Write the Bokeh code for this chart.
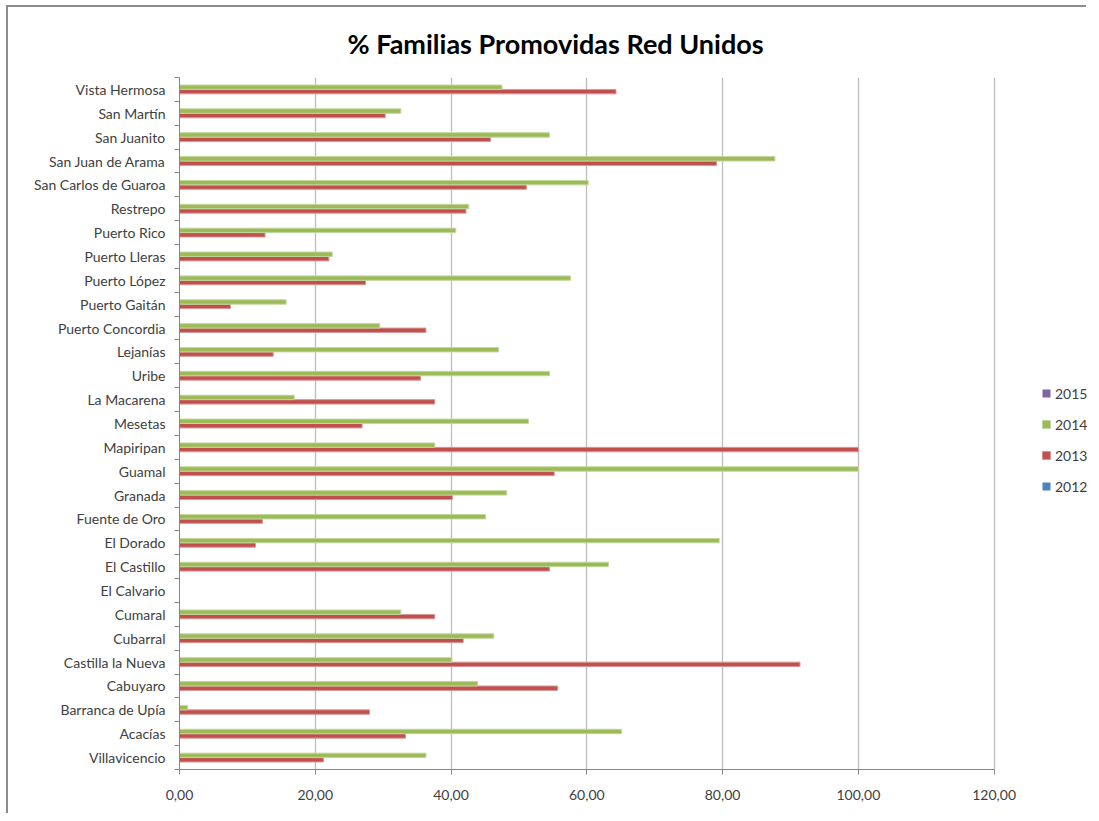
from bokeh.plotting import figure
from bokeh.models import Range1d, FixedTicker, Legend, LegendItem, ColumnDataSource
from bokeh.embed import file_html
from bokeh.resources import INLINE

# Categories from bottom to top
municipios = [
    "Villavicencio", "Acacías", "Barranca de Upía", "Cabuyaro", "Castilla la Nueva",
    "Cubarral", "Cumaral", "El Calvario", "El Castillo", "El Dorado", "Fuente de Oro",
    "Granada", "Guamal", "Mapiripan", "Mesetas", "La Macarena", "Uribe", "Lejanías",
    "Puerto Concordia", "Puerto Gaitán", "Puerto López", "Puerto Lleras", "Puerto Rico",
    "Restrepo", "San Carlos de Guaroa", "San Juan de Arama", "San Juanito", "San Martín",
    "Vista Hermosa",
]
v2012 = [0.0] * 29
v2013 = [21.2, 33.3, 28.0, 55.7, 91.4, 41.8, 37.6, 0.0, 54.5, 11.2, 12.2,
         40.2, 55.2, 100.0, 26.9, 37.6, 35.5, 13.8, 36.3, 7.5, 27.4, 22.0, 12.6,
         42.2, 51.1, 79.1, 45.8, 30.3, 64.3]
v2014 = [36.3, 65.1, 1.2, 43.9, 40.1, 46.3, 32.6, 0.0, 63.2, 79.5, 45.1,
         48.2, 100.0, 37.6, 51.4, 16.9, 54.5, 47.0, 29.5, 15.7, 57.6, 22.5, 40.7,
         42.6, 60.2, 87.7, 54.5, 32.6, 47.5]
v2015 = [0.0] * 29
years = ["2012", "2013", "2014", "2015"]
x_ticks = [0, 20, 40, 60, 80, 100, 120]
x_tick_labels = ["0,00", "20,00", "40,00", "60,00", "80,00", "100,00", "120,00"]

FONT = "Lato"
colors = {"2012": "#4F81BD", "2013": "#C0504D", "2014": "#9BBB59", "2015": "#8064A2"}
edges = {"2012": "#4F81BD", "2013": "#D99694", "2014": "#C3D69B", "2015": "#8064A2"}
offsets = {"2012": -0.28, "2013": -0.093, "2014": 0.093, "2015": 0.28}
series = {"2012": v2012, "2013": v2013, "2014": v2014, "2015": v2015}

# frame extends past the 120 axis end to host the legend on the right
p = figure(width=1080, height=808, output_backend="svg", toolbar_location=None,
           x_range=Range1d(0, 133.9), y_range=Range1d(-0.5, len(municipios) - 0.5),
           min_border_left=171, min_border_right=0, min_border_top=69,
           min_border_bottom=46)
p.styles = {"margin-left": "6px", "margin-top": "5px",
            "border-left": "2px solid #8c8c8c", "border-top": "2px solid #8c8c8c"}
p.outline_line_color = None
p.background_fill_color = "white"
p.border_fill_color = "white"

renderers = {}
idx = list(range(len(municipios)))
for yr in years:
    src = ColumnDataSource(dict(y=[i + offsets[yr] for i in idx], right=series[yr]))
    has_vals = any(v > 0 for v in series[yr])
    r = p.hbar(y="y", left=0, right="right", height=0.185, source=src,
               fill_color=colors[yr],
               line_color=edges[yr] if has_vals else None, line_width=1)
    renderers[yr] = r

# x axis
p.xaxis.ticker = FixedTicker(ticks=x_ticks)
p.xaxis.bounds = (0, 120)
p.xaxis.major_label_overrides = {t: l for t, l in zip(x_ticks, x_tick_labels)}
p.xaxis.axis_line_color = "#868686"
p.xaxis.major_tick_line_color = "#868686"
p.xaxis.major_tick_out = 5
p.xaxis.major_tick_in = 0
p.xaxis.minor_tick_line_color = None
p.xaxis.major_label_standoff = 15
p.xaxis.major_label_text_font = FONT
p.xaxis.major_label_text_font_size = "14px"
p.xaxis.major_label_text_color = "#404040"

# y axis
p.yaxis.ticker = FixedTicker(ticks=idx, minor_ticks=[i - 0.5 for i in range(len(municipios) + 1)])
p.yaxis.major_label_overrides = {i: m for i, m in enumerate(municipios)}
p.yaxis.axis_line_color = "#868686"
p.yaxis.major_tick_line_color = None
p.yaxis.minor_tick_line_color = "#868686"
p.yaxis.minor_tick_out = 5
p.yaxis.minor_tick_in = 0
p.yaxis.major_label_standoff = 8
p.yaxis.major_label_text_font = FONT
p.yaxis.major_label_text_font_size = "14px"
p.yaxis.major_label_text_color = "#404040"

p.xgrid.grid_line_color = "#bdbdbd"
p.xgrid.grid_line_width = 1.3
p.xgrid.bounds = (0, 120)
p.ygrid.grid_line_color = None

p.title.text = "% Familias Promovidas Red Unidos"
p.title.align = "left"
p.title.offset = 168
p.title.text_font = FONT
p.title.text_font_size = "27px"
p.title.text_font_style = "bold"
p.title.text_color = "#000000"
p.title.standoff = 35

legend = Legend(items=[LegendItem(label=yr, renderers=[renderers[yr]]) for yr in reversed(years)],
                location=(862, 273), padding=0, margin=0, spacing=11,
                glyph_width=10, glyph_height=10, label_height=20, label_standoff=4,
                label_text_font=FONT, label_text_font_size="14px", label_text_color="#404040",
                border_line_color=None, background_fill_alpha=0)
p.add_layout(legend, "center")

open("out.html", "w").write(file_html(p, INLINE))
